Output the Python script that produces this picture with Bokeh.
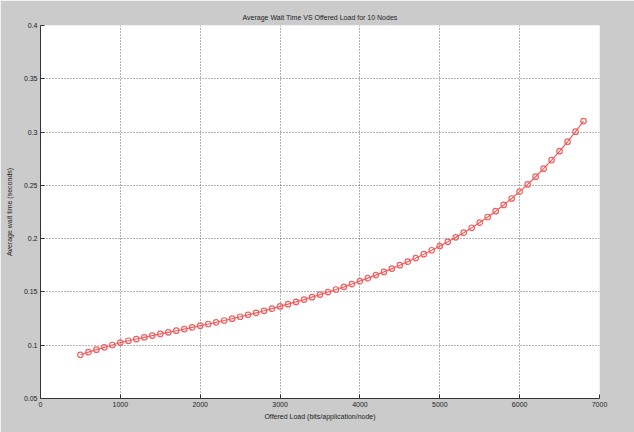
from bokeh.plotting import figure
from bokeh.models import FixedTicker, Range1d
from bokeh.embed import file_html
from bokeh.resources import INLINE

# Offered load (bits/application/node)
offered_load = [500, 600, 700, 800, 900, 1000, 1100, 1200, 1300, 1400,
                1500, 1600, 1700, 1800, 1900, 2000, 2100, 2200, 2300, 2400,
                2500, 2600, 2700, 2800, 2900, 3000, 3100, 3200, 3300, 3400,
                3500, 3600, 3700, 3800, 3900, 4000, 4100, 4200, 4300, 4400,
                4500, 4600, 4700, 4800, 4900, 5000, 5100, 5200, 5300, 5400,
                5500, 5600, 5700, 5800, 5900, 6000, 6100, 6200, 6300, 6400,
                6500, 6600, 6700, 6800]
# Average wait time (seconds)
wait_time = [0.0910, 0.0935, 0.0958, 0.0980, 0.1002, 0.1025, 0.1042, 0.1058, 0.1074, 0.1090,
             0.1106, 0.1121, 0.1136, 0.1151, 0.1167, 0.1183, 0.1199, 0.1215, 0.1232, 0.1249,
             0.1267, 0.1285, 0.1304, 0.1323, 0.1343, 0.1364, 0.1385, 0.1406, 0.1428, 0.1451,
             0.1475, 0.1499, 0.1523, 0.1548, 0.1574, 0.1601, 0.1629, 0.1658, 0.1688, 0.1719,
             0.1751, 0.1784, 0.1818, 0.1854, 0.1891, 0.1930, 0.1970, 0.2012, 0.2056, 0.2102,
             0.2151, 0.2203, 0.2258, 0.2316, 0.2377, 0.2441, 0.2509, 0.2581, 0.2657, 0.2737,
             0.2821, 0.2910, 0.3004, 0.3103]

x_ticks = [0, 1000, 2000, 3000, 4000, 5000, 6000, 7000]
y_ticks = [0.05, 0.1, 0.15, 0.2, 0.25, 0.3, 0.35, 0.4]
y_tick_labels = ["0.05", "0.1", "0.15", "0.2", "0.25", "0.3", "0.35", "0.4"]

FONT = "Liberation Sans"
GRAY_BG = "#cbcbcb"

p = figure(width=634, height=432, output_backend="svg", toolbar_location=None,
           x_range=Range1d(0, 7000), y_range=Range1d(0.05, 0.4),
           title="Average Wait Time VS Offered Load for 10 Nodes",
           min_border_left=40, min_border_right=35, min_border_top=25, min_border_bottom=34)

p.border_fill_color = GRAY_BG
p.background_fill_color = "white"
p.outline_line_color = None

p.title.align = "center"
p.title.text_font = FONT
p.title.text_font_size = "7px"
p.title.text_font_style = "normal"
p.title.text_color = "#222222"

p.xaxis.ticker = FixedTicker(ticks=x_ticks)
p.yaxis.ticker = FixedTicker(ticks=y_ticks)
p.yaxis.major_label_overrides = {t: s for t, s in zip(y_ticks, y_tick_labels)}

for ax in (p.xaxis, p.yaxis):
    ax.major_tick_in = 4
    ax.major_tick_out = 0
    ax.minor_tick_line_color = None
    ax.axis_line_color = "#333333"
    ax.major_tick_line_color = "#333333"
    ax.major_label_text_font = FONT
    ax.major_label_text_font_size = "7px"
    ax.major_label_text_color = "#222222"
    ax.axis_label_text_font = FONT
    ax.axis_label_text_font_size = "7px"
    ax.axis_label_text_font_style = "normal"
    ax.axis_label_text_color = "#222222"

p.xaxis.axis_label = "Offered Load (bits/application/node)"
p.yaxis.axis_label = "Average wait time (seconds)"
p.xaxis.major_label_standoff = 3
p.yaxis.major_label_standoff = 3
p.xaxis.axis_label_standoff = 3
p.yaxis.axis_label_standoff = 8

p.grid.grid_line_color = "#444444"
p.grid.grid_line_dash = "1 2"
p.grid.grid_line_width = 1
p.grid.grid_line_alpha = 0.8

p.line(offered_load, wait_time, line_color="#f06060", line_width=1.2)
p.scatter(offered_load, wait_time, marker="circle", size=5.5, fill_color=None,
          line_color="#f06060", line_width=1.2)

open("out.html", "w").write(file_html(p, INLINE))
